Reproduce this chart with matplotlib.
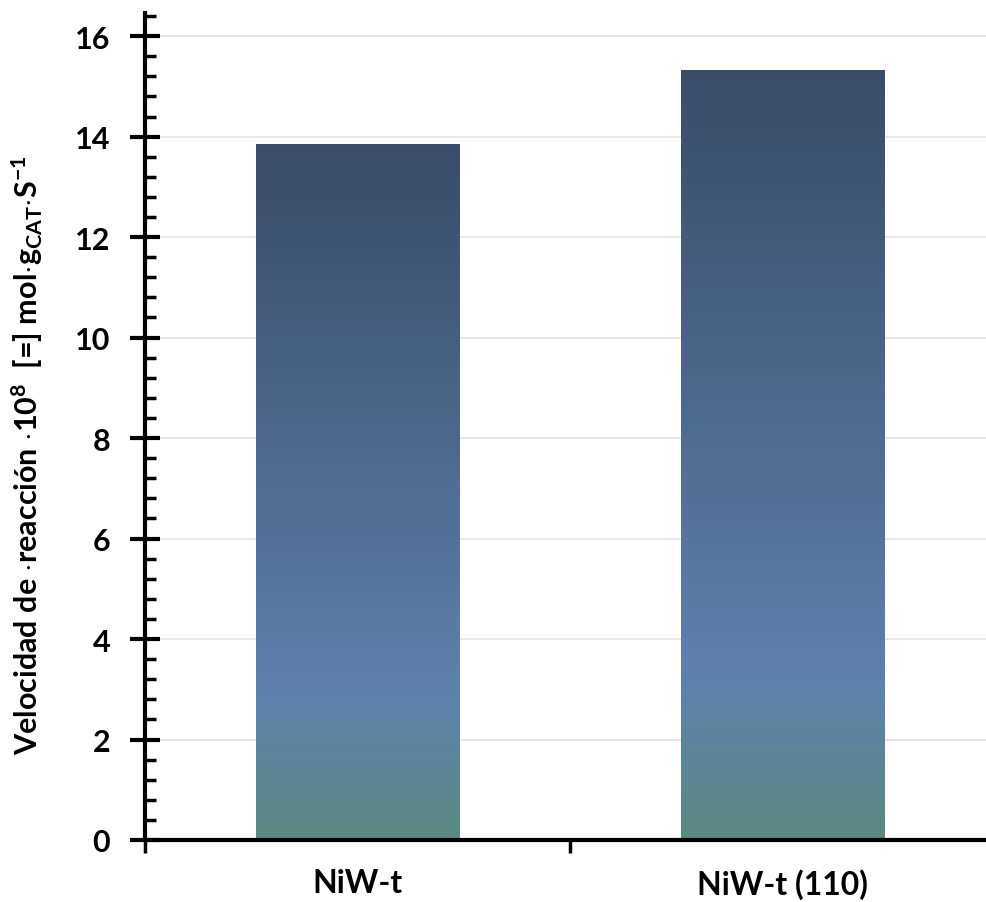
import numpy as np
import matplotlib
matplotlib.use('Agg')
import matplotlib.pyplot as plt
from matplotlib.colors import LinearSegmentedColormap
from matplotlib.ticker import MultipleLocator, FixedLocator

# data
categories = ["NiW-t", "NiW-t (110)"]
rates = [13.85, 15.32]

plt.rcParams['font.family'] = ['Lato', 'DejaVu Sans']
plt.rcParams['font.weight'] = 'bold'
plt.rcParams['axes.labelweight'] = 'bold'
plt.rcParams['mathtext.fontset'] = 'custom'
plt.rcParams['mathtext.rm'] = 'Lato:bold'
plt.rcParams['mathtext.it'] = 'Lato:bold'
plt.rcParams['mathtext.bf'] = 'Lato:bold'

fig = plt.figure(figsize=(9.87, 9.03), dpi=100)
ax = fig.add_axes([145 / 987, 62 / 903, 850 / 987, 827 / 903])

# bar gradient: teal at base, light blue low, navy at top
cmap = LinearSegmentedColormap.from_list(
    "bar", [(0.0, "#5b8a80"), (0.2, "#5f82ad"), (1.0, "#3a4c69")])
grad = np.linspace(0, 1, 256).reshape(-1, 1)

x = np.arange(len(categories))
bars = ax.bar(x, rates, width=0.48, color='none', edgecolor='none', zorder=2)
for b in bars:
    x0, w, h = b.get_x(), b.get_width(), b.get_height()
    im = ax.imshow(grad, extent=[x0, x0 + w, 0, h], origin='lower',
                   cmap=cmap, aspect='auto', zorder=2)
    im.set_clip_path(b)

ax.set_xlim(-0.5, 1.5)
ax.set_ylim(0, 16.46)

ax.yaxis.set_major_locator(MultipleLocator(2))
ax.yaxis.set_minor_locator(MultipleLocator(0.4))
ax.grid(axis='y', which='major', color='#e3e3e3', lw=1.2, zorder=0)
ax.set_axisbelow(True)

ax.set_xticks(x)
ax.set_xticklabels(categories)
ax.xaxis.set_minor_locator(FixedLocator([-0.5, 0.5, 1.5]))
ax.tick_params(axis='x', which='major', length=0, pad=20, labelsize=23)
ax.tick_params(axis='x', which='minor', direction='out', length=9, width=2.5)
ax.tick_params(axis='y', which='major', direction='inout', length=22, width=3,
               labelsize=22, pad=14)
ax.tick_params(axis='y', which='minor', direction='in', length=8, width=2.5)

for side in ['top', 'right']:
    ax.spines[side].set_visible(False)
for side in ['left', 'bottom']:
    ax.spines[side].set_linewidth(3)

ax.set_ylabel("Velocidad de $\\cdot$reacción $\\cdot$10$^{8}$  [=] mol$\\cdot$g$_{CAT}$$\\cdot$S$^{-1}$",
              fontsize=22, fontweight='bold')
ax.yaxis.set_label_coords(-0.118, 0.467)

fig.savefig("out.png", dpi=100)
